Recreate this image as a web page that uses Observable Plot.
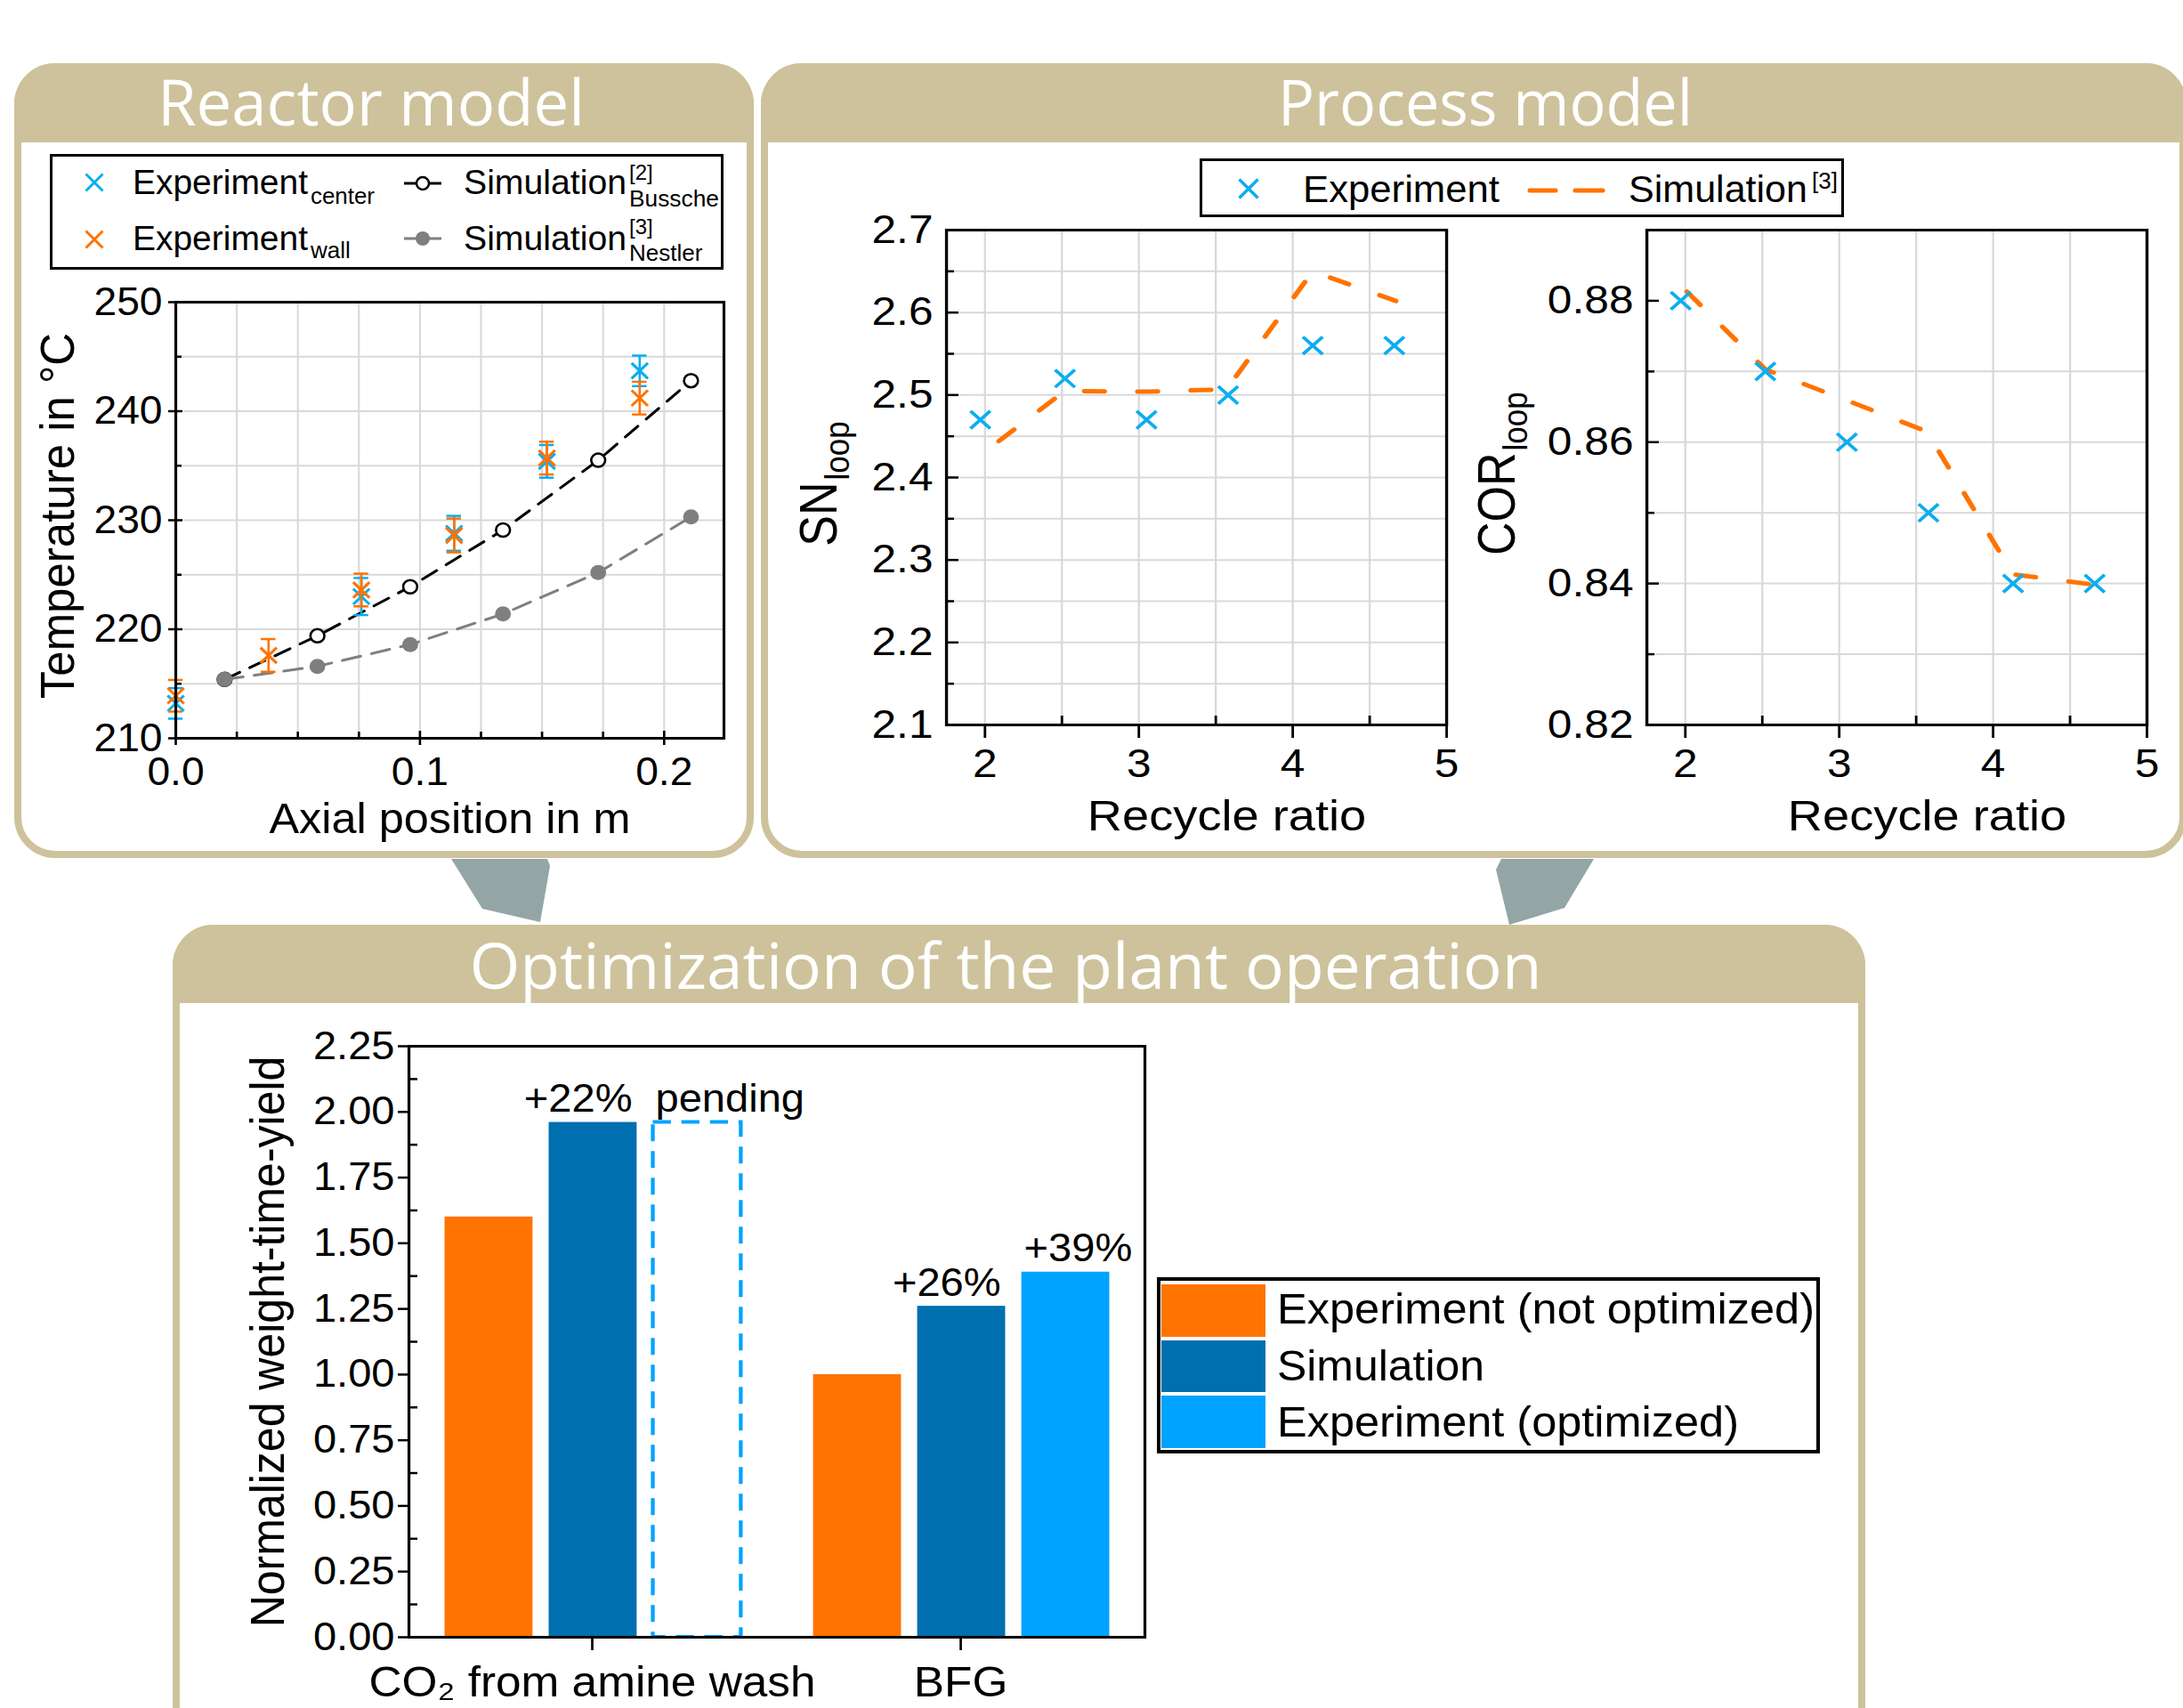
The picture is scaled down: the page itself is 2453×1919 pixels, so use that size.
<!DOCTYPE html>
<html>
<head>
<meta charset="utf-8">
<script src="https://cdn.jsdelivr.net/npm/d3@7"></script>
<script src="https://cdn.jsdelivr.net/npm/@observablehq/plot@0.6"></script>
<style>
html, body { margin: 0; padding: 0; background: #fff; }
#page { position: relative; width: 2453px; height: 1919px; overflow: hidden; background: #fff; }
</style>
</head>
<body>
<div id="page"></div>
<script>
// ================= DATA =================
// --- Reactor model ---
const axialPosExp   = [0.000, 0.038, 0.076, 0.114, 0.152, 0.190];
const tempCenter    = [213.2, null, 223.0, 228.8, 235.4, 243.7];
const tempCenterErr = [1.4, null, 1.7, 1.6, 1.5, 1.4];
const tempWall      = [213.9, 217.6, 223.6, 228.6, 235.7, 241.2];
const tempWallErr   = [1.45, 1.5, 1.5, 1.55, 1.5, 1.5];
const axialPosSim   = [0.020, 0.058, 0.096, 0.134, 0.173, 0.211];
const tempBussche   = [215.4, 219.4, 223.9, 229.1, 235.5, 242.8];
const tempNestler   = [215.4, 216.6, 218.6, 221.4, 225.2, 230.3];
const reactorXTicks = [0, 0.1, 0.2];
const reactorXMinor = [0.025, 0.05, 0.075, 0.125, 0.15, 0.175];
const reactorYTicks = [210, 220, 230, 240, 250];
const reactorYMinor = [215, 225, 235, 245];

// --- Process model ---
const recycleExp    = [1.97, 2.52, 3.05, 3.58, 4.13, 4.66];
const snLoopExp     = [2.47, 2.52, 2.47, 2.50, 2.56, 2.56];
const corLoopExp    = [0.880, 0.870, 0.860, 0.850, 0.840, 0.840];
const recycleSimSN  = [2.09, 2.52, 3.05, 3.57, 4.13, 4.67];
const snLoopSim     = [2.444, 2.505, 2.504, 2.507, 2.650, 2.614];
const recycleSimCOR = [2.01, 2.52, 3.05, 3.57, 4.13, 4.67];
const corLoopSim    = [0.8813, 0.8703, 0.8659, 0.8615, 0.8413, 0.8398];
const recycleTicks  = [2, 3, 4, 5];
const recycleMinor  = [2.5, 3.5, 4.5];
const snTicks       = [2.1, 2.2, 2.3, 2.4, 2.5, 2.6, 2.7];
const snMinor       = [2.15, 2.25, 2.35, 2.45, 2.55, 2.65];
const corTicks      = [0.82, 0.84, 0.86, 0.88];
const corMinor      = [0.83, 0.85, 0.87];

// --- Optimization of the plant operation ---
const feedGroups      = ["CO₂ from amine wash", "BFG"];
const expNotOptimized = [1.60, 1.00];
const simulationWTY   = [1.96, 1.26];
const expOptimized    = [null, 1.39];
const pendingWTY      = [1.96, null];
const simLabels       = ["+22%", "+26%"];
const optLabels       = ["pending", "+39%"];
const barYTicks       = [0, 0.25, 0.5, 0.75, 1, 1.25, 1.5, 1.75, 2, 2.25];
const barYMinor       = [0.125, 0.375, 0.625, 0.875, 1.125, 1.375, 1.625, 1.875, 2.125];

// ================= STYLE =================
const TAN = "#CDC29B", ARROW = "#93A5A5";
const BLUE = "#0AAEEF", ORANGE = "#FF7300", GRAY = "#7F7F7F";
const BAR_ORANGE = "#FF7300", BAR_DARK = "#006FAF", BAR_LIGHT = "#00A3FF";
const GRID = {stroke: "#D9D9D9", strokeWidth: 2};
const FONT = "'Liberation Sans', Arial, Helvetica, sans-serif";
const TITLE_FONT = "'Open Sans', 'Noto Sans', sans-serif";

const page = document.getElementById("page");

function geom(b) {
  const S = b.S;
  return {
    width: b.PW / S, height: b.PH,
    marginLeft: (b.FL - b.L) / S, marginRight: (b.L + b.PW - b.FR) / S,
    marginTop: b.FT - b.T, marginBottom: b.T + b.PH - b.FB,
    fw: (b.FR - b.FL) / S, fh: b.FB - b.FT, S
  };
}
function place(svg, b) {
  svg.style.position = "absolute";
  svg.style.left = b.L + "px";
  svg.style.top = b.T + "px";
  svg.style.transform = `scaleX(${b.S})`;
  svg.style.transformOrigin = "0 0";
  page.appendChild(svg);
}
function plotStyle(size) {
  return {background: "none", overflow: "visible", fontFamily: FONT, fontSize: size + "px", color: "#000"};
}
const TK = {stroke: "#000", strokeWidth: 2.5};

// ================= DECORATION (panels, titles, legends) =================
const deco = d3.select(page).append("svg")
  .attr("width", 2453).attr("height", 1919)
  .style("position", "absolute").style("left", "0px").style("top", "0px");

function panel(id, x0, y0, x1, y1, hb) {
  const r = 46, sw = 8;
  deco.append("clipPath").attr("id", id).append("rect")
    .attr("x", x0).attr("y", y0).attr("width", x1 - x0).attr("height", y1 - y0).attr("rx", r);
  deco.append("rect")
    .attr("x", x0 + sw / 2).attr("y", y0 + sw / 2).attr("width", x1 - x0 - sw).attr("height", y1 - y0 - sw)
    .attr("rx", r - sw / 2).attr("fill", "#fff").attr("stroke", TAN).attr("stroke-width", sw);
  deco.append("rect").attr("x", x0).attr("y", y0).attr("width", x1 - x0).attr("height", hb - y0)
    .attr("fill", TAN).attr("clip-path", `url(#${id})`);
}
panel("cpR", 16, 71, 847, 964, 160);
panel("cpP", 855, 71, 2457, 964, 160);
panel("cpO", 194, 1039, 2096, 2010, 1127);

deco.append("polygon").attr("fill", ARROW)
  .attr("points", "507,965 615,965 618,973 607,1036 542,1021");
deco.append("polygon").attr("fill", ARROW)
  .attr("points", "1687,965 1791,965 1758,1020 1696,1039 1681,977");

function title(x, y, s, len) {
  deco.append("text").attr("x", x).attr("y", y).attr("text-anchor", "middle")
    .attr("font-family", TITLE_FONT).attr("font-size", 72).attr("fill", "#fff")
    .attr("textLength", len).attr("lengthAdjust", "spacingAndGlyphs").text(s);
}
title(417, 141, "Reactor model", 480);
title(1669, 141, "Process model", 466);
title(1130, 1111, "Optimization of the plant operation", 1205);

function t(x, y, s, size, len) {
  const e = deco.append("text").attr("x", x).attr("y", y).attr("font-family", FONT)
    .attr("font-size", size).attr("fill", "#000").text(s);
  if (len) e.attr("textLength", len).attr("lengthAdjust", "spacingAndGlyphs");
  return e;
}
function cross(x, y, h, color, w) {
  deco.append("path").attr("d", `M${x - h},${y - h}L${x + h},${y + h}M${x - h},${y + h}L${x + h},${y - h}`)
    .attr("stroke", color).attr("stroke-width", w).attr("fill", "none");
}

// Reactor legend
deco.append("rect").attr("x", 57.5).attr("y", 174.5).attr("width", 754).attr("height", 127)
  .attr("fill", "#fff").attr("stroke", "#000").attr("stroke-width", 3);
cross(106, 205, 9.5, BLUE, 3);
cross(106, 269, 9.5, ORANGE, 3);
t(149, 218, "Experiment", 39, 197); t(349, 229, "center", 26, 72);
t(149, 281, "Experiment", 39, 197); t(349, 290, "wall", 26);
deco.append("line").attr("x1", 454).attr("x2", 496).attr("y1", 206).attr("y2", 206).attr("stroke", "#000").attr("stroke-width", 3);
deco.append("circle").attr("cx", 475).attr("cy", 206).attr("r", 7).attr("fill", "#fff").attr("stroke", "#000").attr("stroke-width", 2.5);
deco.append("line").attr("x1", 454).attr("x2", 496).attr("y1", 268).attr("y2", 268).attr("stroke", GRAY).attr("stroke-width", 3);
deco.append("circle").attr("cx", 475).attr("cy", 268).attr("r", 8).attr("fill", GRAY);
t(521, 218, "Simulation", 39, 183); t(707, 202, "[2]", 24); t(707, 231.5, "Bussche", 26, 101);
t(521, 281, "Simulation", 39, 183); t(707, 263, "[3]", 24); t(707, 292.5, "Nestler", 26);

// Process legend
deco.append("rect").attr("x", 1349.5).attr("y", 179.5).attr("width", 721).attr("height", 63)
  .attr("fill", "#fff").attr("stroke", "#000").attr("stroke-width", 3);
cross(1403, 212, 10.5, BLUE, 3.5);
t(1464, 227, "Experiment", 42, 221);
deco.append("line").attr("x1", 1719).attr("x2", 1748).attr("y1", 214).attr("y2", 214).attr("stroke", ORANGE).attr("stroke-width", 5).attr("stroke-linecap", "round");
deco.append("line").attr("x1", 1770).attr("x2", 1801).attr("y1", 214).attr("y2", 214).attr("stroke", ORANGE).attr("stroke-width", 5).attr("stroke-linecap", "round");
t(1830, 227, "Simulation", 42, 201); t(2036, 212, "[3]", 26);

// Bar legend
deco.append("rect").attr("x", 1302).attr("y", 1437).attr("width", 741).attr("height", 194)
  .attr("fill", "#fff").attr("stroke", "#000").attr("stroke-width", 4);
[[1443, 59, BAR_ORANGE], [1506, 58, BAR_DARK], [1568, 59, BAR_LIGHT]].forEach(([y, h, c]) =>
  deco.append("rect").attr("x", 1305).attr("y", y).attr("width", 117).attr("height", h).attr("fill", c));
t(1435, 1487, "Experiment (not optimized)", 49, 604);
t(1435, 1551, "Simulation", 49, 233);
t(1435, 1614, "Experiment (optimized)", 49, 519);

// ================= REACTOR CHART =================
{
  const B = {L: 20, T: 300, PW: 826, PH: 650, FL: 197, FR: 813, FT: 339, FB: 829, S: 1.05};
  const g = geom(B);
  const center = axialPosExp.map((x, i) => ({x, y: tempCenter[i], e: tempCenterErr[i]})).filter(d => d.y != null);
  const wall = axialPosExp.map((x, i) => ({x, y: tempWall[i], e: tempWallErr[i]}));
  const bussche = axialPosSim.map((x, i) => ({x, y: tempBussche[i]}));
  const nestler = axialPosSim.map((x, i) => ({x, y: tempNestler[i]}));
  const capHalf = 0.003;
  const errMarks = (data, color) => [
    Plot.ruleX(data, {x: "x", y1: d => d.y - d.e, y2: d => d.y + d.e, stroke: color, strokeWidth: 2.5}),
    Plot.ruleY(data, {y: d => d.y + d.e, x1: d => d.x - capHalf, x2: d => d.x + capHalf, stroke: color, strokeWidth: 2.5}),
    Plot.ruleY(data, {y: d => d.y - d.e, x1: d => d.x - capHalf, x2: d => d.x + capHalf, stroke: color, strokeWidth: 2.5}),
    Plot.dot(data, {x: "x", y: "y", symbol: "times", r: 8, stroke: color, strokeWidth: 3})
  ];
  const svg = Plot.plot({
    width: g.width, height: g.height,
    marginLeft: g.marginLeft, marginRight: g.marginRight, marginTop: g.marginTop, marginBottom: g.marginBottom,
    style: plotStyle(44),
    x: {domain: [0, 0.2245], ticks: reactorXTicks, tickFormat: d3.format(".1f"), tickSize: 0, tickPadding: 21, label: null},
    y: {domain: [210, 250], ticks: reactorYTicks, tickFormat: d3.format("d"), tickSize: 0, tickPadding: 15 / g.S, label: null},
    marks: [
      Plot.ruleX([...reactorXMinor, 0.1, 0.2], {x: d => d, ...GRID}),
      Plot.ruleY([...reactorYMinor, 220, 230, 240], {y: d => d, ...GRID}),
      Plot.ruleX(reactorXMinor, {x: d => d, insetTop: g.fh - 7, ...TK}),
      Plot.ruleX(reactorXTicks, {x: d => d, insetTop: g.fh - 8, insetBottom: -8, ...TK}),
      Plot.ruleY(reactorYMinor, {y: d => d, insetRight: g.fw - 7 / g.S, ...TK}),
      Plot.ruleY(reactorYTicks, {y: d => d, insetRight: g.fw - 8 / g.S, insetLeft: -8 / g.S, ...TK}),
      Plot.line(bussche, {x: "x", y: "y", stroke: "#000", strokeWidth: 3, strokeDasharray: "18,12"}),
      Plot.dot(bussche, {x: "x", y: "y", r: 7.5, fill: "#fff", stroke: "#000", strokeWidth: 2.5}),
      Plot.line(nestler, {x: "x", y: "y", stroke: GRAY, strokeWidth: 3, strokeDasharray: "20,12"}),
      Plot.dot(nestler, {x: "x", y: "y", r: 8.5, fill: GRAY}),
      ...errMarks(center, BLUE),
      ...errMarks(wall, ORANGE),
      Plot.frame({stroke: "#000", strokeWidth: 3}),
      Plot.text(["Axial position in m"], {text: d => d, frameAnchor: "bottom", dy: 91, fontSize: 48, lineAnchor: "middle"}),
      Plot.text(["Temperature in °C"], {text: d => d, frameAnchor: "left", rotate: -90, textAnchor: "middle",
        dx: (65 - B.FL) / g.S, dy: -5, fontSize: 51, lineAnchor: "middle"})
    ]
  });
  place(svg, B);
}

// ================= PROCESS CHARTS =================
function processChart(B, xs, ys, simX, simY, yDomain, yTicks, yMinor, yFmt, name, nameDx, nameDy) {
  const g = geom(B);
  const exp = xs.map((x, i) => ({x, y: ys[i]}));
  const sim = simX.map((x, i) => ({x, y: simY[i]}));
  const svg = Plot.plot({
    width: g.width, height: g.height,
    marginLeft: g.marginLeft, marginRight: g.marginRight, marginTop: g.marginTop, marginBottom: g.marginBottom,
    style: plotStyle(44),
    x: {domain: [1.75, 5], ticks: recycleTicks, tickFormat: d3.format("d"), tickSize: 0, tickPadding: 27, label: null},
    y: {domain: yDomain, ticks: yTicks, tickFormat: d3.format(yFmt), tickSize: 0, tickPadding: 15 / g.S, label: null},
    marks: [
      Plot.ruleX([2, ...recycleMinor, 3, 4], {x: d => d, ...GRID}),
      Plot.ruleY(yMinor.concat(yTicks.slice(1, -1)), {y: d => d, ...GRID}),
      Plot.ruleX(recycleMinor, {x: d => d, insetTop: g.fh - 10, ...TK}),
      Plot.ruleX(recycleTicks, {x: d => d, insetTop: g.fh, insetBottom: -15, ...TK}),
      Plot.ruleY(yMinor, {y: d => d, insetRight: g.fw - 9 / g.S, ...TK}),
      Plot.ruleY(yTicks, {y: d => d, insetRight: g.fw - 14 / g.S, ...TK}),
      Plot.line(sim, {x: "x", y: "y", stroke: ORANGE, strokeWidth: 5, strokeDasharray: "20,33", strokeLinecap: "round"}),
      Plot.dot(exp, {x: "x", y: "y", symbol: "times", r: 9, stroke: BLUE, strokeWidth: 3.5}),
      Plot.frame({stroke: "#000", strokeWidth: 3}),
      Plot.text(["Recycle ratio"], {text: d => d, frameAnchor: "bottom", dx: 34 / g.S, dy: 103, fontSize: 48, lineAnchor: "middle"}),
      Plot.text([name], {text: d => d, frameAnchor: "left", rotate: -90, textAnchor: "end", lineAnchor: "bottom",
        dx: nameDx / g.S, dy: nameDy, fontSize: 52}),
      Plot.text(["loop"], {text: d => d, frameAnchor: "left", rotate: -90, textAnchor: "start", lineAnchor: "bottom",
        dx: (nameDx + 14) / g.S, dy: nameDy - 2, fontSize: 35})
    ]
  });
  place(svg, B);
}
processChart({L: 880, T: 240, PW: 790, PH: 720, FL: 1063, FR: 1625, FT: 258, FB: 814, S: 1.13},
  recycleExp, snLoopExp, recycleSimSN, snLoopSim, [2.1, 2.7], snTicks, snMinor, ".1f", "SN", 939 - 1063, 5);
processChart({L: 1670, T: 240, PW: 780, PH: 720, FL: 1850, FR: 2412, FT: 258, FB: 814, S: 1.13},
  recycleExp, corLoopExp, recycleSimCOR, corLoopSim, [0.82, 0.89], corTicks, corMinor, ".2f", "COR", 1701 - 1850, -28);

// ================= BAR CHART =================
{
  const B = {L: 230, T: 1140, PW: 1080, PH: 779, FL: 459, FR: 1286, FT: 1175, FB: 1839, S: 1.07};
  const g = geom(B);
  const pIn = 0.154, pOut = 0.0735;
  const step = g.fw / (2 - pIn + 2 * pOut);
  const third = step * (1 - pIn) / 3;
  const ins = i => ({insetLeft: i * third + 9.5 / g.S, insetRight: (2 - i) * third + 7.5 / g.S});
  const rows = vals => feedGroups.map((group, i) => ({group, value: vals[i]})).filter(d => d.value != null);
  const simRows = feedGroups.map((group, i) => ({group, value: simulationWTY[i], label: simLabels[i]}));
  const optRows = feedGroups.map((group, i) => ({group, value: expOptimized[i] ?? pendingWTY[i], label: optLabels[i]}));
  const svg = Plot.plot({
    width: g.width, height: g.height,
    marginLeft: g.marginLeft, marginRight: g.marginRight, marginTop: g.marginTop, marginBottom: g.marginBottom,
    style: plotStyle(44),
    x: {type: "band", domain: feedGroups, paddingInner: pIn, paddingOuter: pOut, axis: null},
    y: {domain: [0, 2.25], ticks: barYTicks, tickFormat: d3.format(".2f"), tickSize: 0, tickPadding: 16 / g.S, label: null},
    marks: [
      Plot.barY(rows(expNotOptimized), {x: "group", y: "value", fill: BAR_ORANGE, ...ins(0)}),
      Plot.barY(rows(simulationWTY), {x: "group", y: "value", fill: BAR_DARK, ...ins(1)}),
      Plot.barY(rows(expOptimized), {x: "group", y: "value", fill: BAR_LIGHT, ...ins(2)}),
      Plot.barY(rows(pendingWTY), {x: "group", y: "value", fill: "none", stroke: BAR_LIGHT, strokeWidth: 4, strokeDasharray: "19,11", ...ins(2)}),
      Plot.ruleY(barYMinor, {y: d => d, insetRight: g.fw - 10 / g.S, ...TK}),
      Plot.ruleY(barYTicks, {y: d => d, insetRight: g.fw, insetLeft: -12 / g.S, ...TK}),
      Plot.ruleX(feedGroups, {x: d => d, insetTop: g.fh, insetBottom: -15, ...TK}),
      Plot.frame({stroke: "#000", strokeWidth: 3}),
      Plot.text(simRows, {x: "group", y: "value", text: "label", textAnchor: "end", lineAnchor: "bottom", dx: 45 / g.S, dy: -12, fontSize: 44}),
      Plot.text(optRows, {x: "group", y: "value", text: "label", textAnchor: "start", lineAnchor: "bottom", dx: 71 / g.S, dy: -12, fontSize: 44}),
      Plot.text(feedGroups, {x: d => d, text: d => d, frameAnchor: "bottom", dy: 32, lineAnchor: "top", fontSize: 48}),
      Plot.text(["Normalized weight-time-yield"], {text: d => d, frameAnchor: "left", rotate: -90, textAnchor: "middle", lineAnchor: "bottom",
        dx: (318 - B.FL) / g.S, fontSize: 50})
    ]
  });
  place(svg, B);
}
</script>
</body>
</html>
